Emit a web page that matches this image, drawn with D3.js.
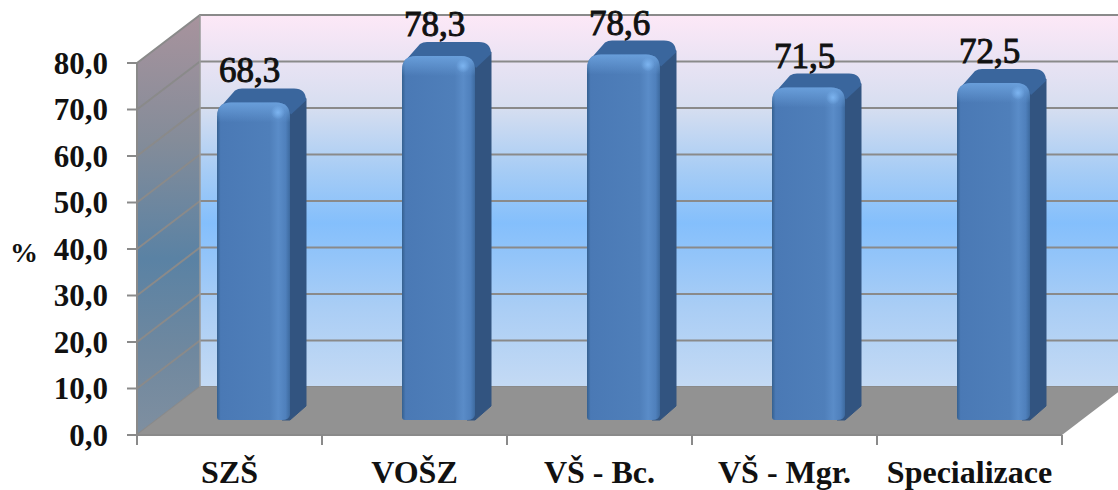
<!DOCTYPE html>
<html>
<head>
<meta charset="utf-8">
<script src="https://cdn.jsdelivr.net/npm/d3@7"></script>
<style>
html,body{margin:0;padding:0;background:#fff;overflow:hidden}
svg{display:block}
text{font-family:"Liberation Serif",serif;font-weight:bold;fill:#111}
</style>
</head>
<body>
<svg id="chart" width="1118" height="490"></svg>
<script>
const categories = ["SZŠ", "VOŠZ", "VŠ - Bc.", "VŠ - Mgr.", "Specializace"];
const values = [68.3, 78.3, 78.6, 71.5, 72.5];
const valueLabels = ["68,3", "78,3", "78,6", "71,5", "72,5"];
const ticks = [0, 10, 20, 30, 40, 50, 60, 70, 80];

const plot = {left: 137, right: 1062, bottom: 435, top: 63};
const wall = {dx: 63, dy: -48};        // depth of the box
const barShift = {dx: 24, dy: -15};    // bars stand in the middle of the floor
const barDepth = {dx: 16, dy: -14};
const barWidth = 73;

const svg = d3.select("#chart");
const x = d3.scaleBand().domain(categories).range([plot.left, plot.right]);
const y = d3.scaleLinear().domain([0, 80]).range([plot.bottom, plot.top]);

const defs = svg.append("defs");
function linear(id, dir, stops) {
  const g = defs.append("linearGradient").attr("id", id)
    .attr("x1", 0).attr("y1", 0)
    .attr("x2", dir === "h" ? 1 : 0).attr("y2", dir === "h" ? 0 : 1);
  stops.forEach(([o, c, a]) => {
    const s = g.append("stop").attr("offset", o).attr("stop-color", c);
    if (a !== undefined) s.attr("stop-opacity", a);
  });
}
linear("backWall", "v", [[0, "#fde8f7"], [0.25, "#d6def0"], [0.42, "#a6ccf5"], [0.56, "#84bffc"], [0.78, "#a9cdf5"], [1, "#c4daf4"]]);
linear("sideWall", "v", [[0, "#a8939d"], [0.3, "#848c99"], [0.58, "#5a82a4"], [0.8, "#6f889f"], [1, "#7f8fa0"]]);
linear("barFront", "h", [[0, "#35608f"], [0.05, "#4a79b5"], [0.72, "#4f7fba"], [0.84, "#5a8cc8"], [0.94, "#4f80bc"], [1, "#3d6a9f"]]);
linear("barGloss", "v", [[0, "#6aa0dc", 0.95], [1, "#6aa0dc", 0]]);
const spot = defs.append("radialGradient").attr("id", "barSpot");
spot.append("stop").attr("offset", 0).attr("stop-color", "#7cb4f0");
spot.append("stop").attr("offset", 1).attr("stop-color", "#7cb4f0").attr("stop-opacity", 0);

const line = d3.line();
const backPt = (px, py) => [px + wall.dx, py + wall.dy];

// Box: back wall and left wall
const g = svg.append("g");
g.append("path")
  .attr("d", line([backPt(plot.left, plot.top), backPt(plot.right, plot.top), backPt(plot.right, plot.bottom), backPt(plot.left, plot.bottom)]) + "Z")
  .attr("fill", "url(#backWall)");
g.append("path")
  .attr("d", line([[plot.left, plot.top], backPt(plot.left, plot.top), backPt(plot.left, plot.bottom), [plot.left, plot.bottom]]) + "Z")
  .attr("fill", "url(#sideWall)");

// Gridlines along the left and back walls
g.selectAll("path.grid").data(ticks).join("path").attr("class", "grid")
  .attr("d", t => line([[plot.left, y(t)], backPt(plot.left, y(t)), backPt(plot.right, y(t))]))
  .attr("fill", "none").attr("stroke", "#8a8a8a").attr("stroke-width", 2);
g.append("path").attr("d", line([backPt(plot.left, plot.top), backPt(plot.left, plot.bottom)]))
  .attr("stroke", "#9a9a9a").attr("stroke-width", 1.5).attr("fill", "none");

// Floor
g.append("path")
  .attr("d", line([[plot.left, plot.bottom], backPt(plot.left, plot.bottom), backPt(plot.right, plot.bottom), [plot.right, plot.bottom]]) + "Z")
  .attr("fill", "#929292");

// Value axis
g.append("path").attr("d", line([[plot.left, plot.top], [plot.left, plot.bottom]]))
  .attr("stroke", "#8a8a8a").attr("stroke-width", 2).attr("fill", "none");
g.selectAll("line.ytick").data(ticks).join("line").attr("class", "ytick")
  .attr("x1", plot.left - 10).attr("x2", plot.left)
  .attr("y1", d => y(d)).attr("y2", d => y(d))
  .attr("stroke", "#8a8a8a").attr("stroke-width", 2);
g.selectAll("text.ylab").data(ticks).join("text").attr("class", "ylab")
  .attr("x", 108).attr("y", d => y(d) + 10.5).attr("text-anchor", "end")
  .attr("font-size", 31)
  .text(d => d3.format(".1f")(d).replace(".", ","));

g.append("text").attr("x", 10).attr("y", 262).attr("font-size", 28).text("%");

// Category axis
g.append("path").attr("d", line([[plot.left, plot.bottom], [plot.right, plot.bottom]]))
  .attr("stroke", "#8a8a8a").attr("stroke-width", 2).attr("fill", "none");
const catEdges = categories.map(c => x(c)).concat(plot.right);
g.selectAll("line.xtick").data(catEdges).join("line").attr("class", "xtick")
  .attr("x1", d => d).attr("x2", d => d).attr("y1", plot.bottom).attr("y2", plot.bottom + 10)
  .attr("stroke", "#8a8a8a").attr("stroke-width", 2);
g.selectAll("text.xlab").data(categories).join("text").attr("class", "xlab")
  .attr("x", c => x(c) + x.bandwidth() / 2).attr("y", 483).attr("text-anchor", "middle")
  .attr("font-size", 32).text(c => c);

// Bars: side face, top face, front face, gloss and highlight
const bars = g.selectAll("g.bar").data(categories.map((c, i) => ({c, v: values[i], label: valueLabels[i]}))).join("g").attr("class", "bar");
const fx = d => x(d.c) + x.bandwidth() / 2 + barShift.dx - barWidth / 2;
const by = plot.bottom + barShift.dy;
const ty = d => y(d.v) + barShift.dy;

bars.append("path").attr("fill", "#325480").attr("stroke", "#325480").attr("stroke-width", 1).attr("stroke-linejoin", "round")
  .attr("d", d => {
    const l = fx(d) + barWidth - 8, r = fx(d) + barWidth;
    return line([[l, by], [r, by], [r + barDepth.dx, by + barDepth.dy], [r + barDepth.dx, ty(d) + barDepth.dy + 10], [l, ty(d) + 10]]) + "Z";
  });
bars.append("path").attr("fill", "#3a669d")
  .attr("d", d => {
    const xl = fx(d), t = ty(d), xr = xl + barWidth, dx = barDepth.dx, dy = barDepth.dy;
    return `M${xl + 3},${t + 5} L${xl + dx + 2},${t + dy + 2} Q${xl + dx + 5},${t + dy} ${xl + dx + 9},${t + dy} L${xr + dx - 12},${t + dy} Q${xr + dx},${t + dy} ${xr + dx},${t + dy + 12} L${xr + 1},${t + 12} L${xr - 6},${t + 2} Z`;
  });
bars.append("path").attr("fill", "url(#barFront)")
  .attr("d", d => {
    const l = fx(d), r = l + barWidth, t = ty(d), b = by, q = 14;
    return `M${l},${t + q} Q${l},${t} ${l + q},${t} L${r - q},${t} Q${r},${t} ${r},${t + q} L${r},${b - 5} Q${r - 1},${b} ${r - 8},${b} L${l + 3},${b} Q${l},${b} ${l},${b - 3} Z`;
  });
bars.append("path").attr("fill", "url(#barGloss)")
  .attr("d", d => {
    const l = fx(d), r = l + barWidth, t = ty(d), q = 14;
    return `M${l},${t + q} Q${l},${t} ${l + q},${t} L${r - q},${t} Q${r},${t} ${r},${t + q} L${r},${t + 20} L${l},${t + 20} Z`;
  });
bars.append("ellipse").attr("fill", "url(#barSpot)")
  .attr("cx", d => fx(d) + barWidth - 12).attr("cy", d => ty(d) + 10).attr("rx", 7).attr("ry", 7);

// Value labels sit above each bar's top face
bars.append("text")
  .attr("x", d => fx(d) + barWidth / 2 - 4).attr("y", d => ty(d) + barDepth.dy - 6)
  .attr("text-anchor", "middle").attr("font-size", 35)
  .style("font-weight", "normal").style("stroke", "#111").style("stroke-width", 1)
  .text(d => d.label);
</script>
</body>
</html>
